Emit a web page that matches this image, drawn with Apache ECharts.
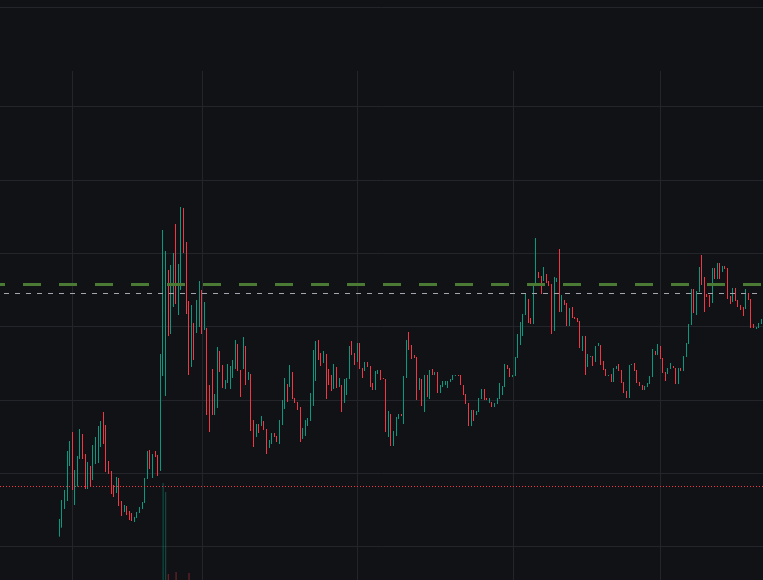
<!DOCTYPE html>
<html><head><meta charset="utf-8">
<script src="https://cdn.jsdelivr.net/npm/echarts@6/dist/echarts.min.js"></script>
<style>html,body{margin:0;padding:0;background:#111216;}#c{width:763px;height:580px;}</style>
</head><body><div id="c"></div>
<script>
// Candle data (272 bars)
const opens = [
12.50,13.85,16.65,17.85,23.10,28.20,17.25,20.00,24.15,27.90,
24.90,19.65,23.10,21.00,23.40,23.55,25.95,31.20,29.25,23.85,
22.35,20.25,19.05,21.30,17.85,16.20,17.10,16.35,16.05,14.70,
15.30,16.05,16.65,17.55,21.15,25.50,21.30,25.35,24.75,22.35,
36.60,33.60,52.50,42.90,46.95,59.40,45.75,49.50,61.80,56.70,
47.85,37.95,44.55,43.05,43.95,49.50,43.50,43.80,35.25,37.65,
30.75,31.80,40.35,38.25,34.65,35.55,34.65,36.30,37.65,41.40,
37.50,37.65,41.10,36.00,36.90,30.00,27.45,29.40,29.10,29.85,
28.65,25.80,26.40,28.05,27.60,26.40,29.25,31.65,35.40,34.95,
37.20,33.30,32.70,31.95,27.15,27.60,29.10,29.85,32.10,35.85,
42.00,40.05,38.55,39.90,37.65,36.75,34.65,37.95,34.95,35.25,
32.55,33.75,36.15,41.85,40.05,38.70,41.55,37.80,37.35,38.70,
38.10,35.55,34.50,36.90,37.50,36.30,36.15,27.45,30.90,26.10,
27.60,30.15,30.90,29.40,36.30,43.20,41.25,39.75,39.45,34.50,
36.15,31.20,36.75,33.15,37.65,36.75,37.20,34.05,34.95,35.25,
34.80,35.70,36.00,36.60,36.75,36.75,35.25,33.90,32.55,29.10,
31.50,30.75,31.20,33.15,34.65,33.30,32.55,32.70,31.95,32.40,
33.15,33.75,34.95,38.25,37.80,36.45,36.60,39.30,41.25,42.60,
45.75,48.15,45.30,44.40,50.25,52.20,51.60,50.85,51.90,50.85,
50.40,43.35,50.70,55.65,46.20,48.00,47.55,44.10,46.95,45.45,
45.30,44.85,40.35,42.60,37.95,39.45,39.60,38.70,41.10,41.25,
38.85,37.65,36.60,36.90,35.70,37.65,38.40,37.50,35.70,34.35,
33.30,38.25,38.55,37.50,35.70,35.25,34.50,34.95,35.40,36.45,
40.35,39.75,41.10,39.30,37.20,36.90,37.65,38.10,37.80,35.40,
37.80,37.35,39.45,41.40,44.25,49.65,45.75,49.20,54.75,51.45,
48.90,48.75,47.55,52.80,51.15,53.55,52.20,53.10,52.80,48.60,
47.70,49.80,48.00,47.25,46.95,46.65,49.05,48.15,44.40,43.65,
43.80,44.40
];
const closes = [
15.15,18.00,19.50,25.35,26.85,19.50,22.50,24.60,28.65,24.15,
19.65,23.70,19.95,26.25,27.45,29.10,29.85,26.40,22.20,21.90,
18.90,18.45,21.45,17.10,15.60,17.25,15.75,15.00,14.85,15.45,
16.20,16.95,17.70,21.30,25.35,22.65,24.90,24.45,21.60,39.90,
58.50,55.35,42.60,53.25,55.05,47.40,53.40,61.95,55.05,45.90,
36.75,47.25,39.00,48.00,50.85,42.90,47.70,30.75,28.20,30.75,
33.90,40.95,37.20,34.80,36.00,38.40,38.10,39.00,42.00,37.35,
33.45,42.45,35.25,37.20,28.35,25.95,29.40,28.05,30.60,28.50,
24.90,27.00,28.05,27.45,26.70,30.00,33.00,36.30,32.70,38.25,
33.15,32.55,31.50,26.70,28.80,30.00,30.30,34.05,40.50,41.85,
39.00,38.10,40.35,33.15,35.25,34.35,38.40,34.80,36.30,31.20,
36.15,36.30,41.10,39.75,38.25,41.55,37.65,36.30,38.70,37.95,
34.95,34.50,37.35,37.50,36.00,36.15,28.20,31.35,26.10,28.35,
30.45,30.90,30.60,36.60,42.00,40.50,39.15,39.30,33.00,36.30,
32.10,36.75,33.45,37.50,36.75,37.20,34.05,35.25,35.85,35.85,
35.85,36.15,36.75,36.75,36.60,35.25,33.75,32.40,29.10,31.50,
29.85,31.35,33.30,34.65,33.00,33.00,33.30,31.95,32.55,33.30,
35.55,35.10,38.40,37.65,36.45,36.75,39.45,42.90,44.70,45.90,
49.05,44.55,44.40,50.25,57.30,51.30,48.90,52.95,50.55,50.10,
42.90,51.45,51.30,46.20,48.75,47.25,44.10,46.80,45.30,45.15,
44.70,40.80,42.60,36.75,39.90,39.60,38.10,41.10,41.55,38.25,
37.50,36.60,36.75,35.70,37.80,38.10,37.35,35.55,34.05,33.30,
38.25,38.40,37.35,35.55,35.10,34.50,35.10,35.55,36.60,40.65,
39.75,41.40,39.15,37.05,35.85,37.80,38.55,37.80,35.40,37.80,
37.35,39.60,41.55,44.40,49.65,46.05,49.35,52.95,50.25,46.20,
48.45,46.95,52.80,51.15,53.55,51.15,53.10,52.65,48.15,47.40,
49.80,47.85,46.95,46.50,45.60,49.65,48.00,43.80,43.80,43.95,
44.55,45.15
];
const lows = [
12.50,13.85,16.65,17.85,23.10,19.50,17.25,20.00,24.15,24.15,
19.65,19.65,19.95,21.00,23.40,23.55,25.95,26.40,22.20,21.90,
18.90,18.45,19.05,17.10,15.60,16.20,15.75,15.00,14.85,14.70,
15.30,16.05,16.65,17.55,21.15,22.65,21.30,24.45,21.60,22.35,
36.60,33.60,42.60,42.90,46.95,47.40,45.75,49.50,55.05,45.90,
36.75,37.95,39.00,43.05,43.95,42.90,43.50,30.75,28.20,30.75,
30.75,31.80,37.20,34.80,34.65,35.55,34.65,36.30,37.65,37.35,
33.45,37.65,35.25,36.00,28.35,25.95,27.45,28.05,29.10,28.50,
24.90,25.80,26.40,27.45,26.70,26.40,29.25,31.65,32.70,34.95,
33.15,32.55,31.50,26.70,27.15,27.60,29.10,29.85,32.10,35.85,
39.00,38.10,38.55,33.15,35.25,34.35,34.65,34.80,34.95,31.20,
32.55,33.75,36.15,39.75,38.25,38.70,37.65,36.30,37.35,37.95,
34.95,34.50,34.50,36.90,36.00,36.15,28.20,27.45,26.10,26.10,
27.60,30.15,30.60,29.40,36.30,40.50,39.15,39.30,33.00,34.50,
32.10,31.20,33.45,33.15,36.75,36.75,34.05,34.05,34.95,35.25,
34.80,35.70,36.00,36.60,36.60,35.25,33.75,32.40,29.10,29.10,
29.85,30.75,31.20,33.15,33.00,33.00,32.55,31.95,31.95,32.40,
33.15,33.75,34.95,37.65,36.45,36.45,36.60,39.30,41.25,42.60,
45.75,44.55,44.40,44.40,50.25,51.30,48.90,50.85,50.55,50.10,
42.90,43.35,50.70,46.20,46.20,47.25,44.10,44.10,45.30,45.15,
44.70,40.80,40.35,36.75,37.95,39.45,38.10,38.70,41.10,38.25,
37.50,36.60,36.60,35.70,35.70,37.65,37.35,35.55,34.05,33.30,
33.30,38.25,37.35,35.55,35.10,34.50,34.50,34.95,35.40,36.45,
39.75,39.75,39.15,37.05,35.85,36.90,37.65,37.80,35.40,35.40,
37.35,37.35,39.45,41.40,44.25,46.05,45.75,49.20,50.25,46.20,
48.45,46.95,47.55,51.15,51.15,51.15,52.20,52.65,48.15,47.40,
47.70,47.85,46.95,46.50,45.60,46.65,48.00,43.80,43.80,43.65,
43.80,44.40
];
const highs = [
15.15,18.00,19.50,25.35,26.85,28.20,22.50,24.60,28.65,27.90,
24.90,23.70,23.10,26.25,27.45,29.10,29.85,31.20,29.25,23.85,
22.35,20.25,21.45,21.30,17.85,17.25,17.10,16.35,16.05,15.45,
16.20,16.95,17.70,21.30,25.35,25.50,24.90,25.35,24.75,39.90,
58.50,55.35,52.50,53.25,55.05,59.40,53.40,61.95,61.80,56.70,
47.85,47.25,44.55,48.00,50.85,49.50,47.70,43.80,35.25,37.65,
33.90,40.95,40.35,38.25,36.00,38.40,38.10,39.00,42.00,41.40,
37.50,42.45,41.10,37.20,36.90,30.00,29.40,29.40,30.60,29.85,
28.65,27.00,28.05,28.05,27.60,30.00,33.00,36.30,35.40,38.25,
37.20,33.30,32.70,31.95,28.80,30.00,30.30,34.05,40.50,41.85,
42.00,40.05,40.35,39.90,37.65,36.75,38.40,37.95,36.30,35.25,
36.15,36.30,41.10,41.85,40.05,41.55,41.55,37.80,38.70,38.70,
38.10,35.55,37.35,37.50,37.50,36.30,36.15,31.35,30.90,28.35,
30.45,30.90,30.90,36.60,42.00,43.20,41.25,39.75,39.45,36.30,
36.15,36.75,36.75,37.50,37.65,37.20,37.20,35.25,35.85,35.85,
35.85,36.15,36.75,36.75,36.75,36.75,35.25,33.90,32.55,31.50,
31.50,31.35,33.30,34.65,34.65,33.30,33.30,32.70,32.55,33.30,
35.55,35.10,38.40,38.25,37.80,36.75,39.45,42.90,44.70,45.90,
49.05,48.15,45.30,50.25,57.30,52.20,51.60,52.95,51.90,50.85,
50.40,51.45,51.30,55.65,48.75,48.00,47.55,46.80,46.95,45.45,
45.30,44.85,42.60,42.60,39.90,39.60,39.60,41.10,41.55,41.25,
38.85,37.65,36.75,36.90,37.80,38.10,38.40,37.50,35.70,34.35,
38.25,38.40,38.55,37.50,35.70,35.25,35.10,35.55,36.60,40.65,
40.35,41.40,41.10,39.30,37.20,37.80,38.55,38.10,37.80,37.80,
37.80,39.60,41.55,44.40,49.65,49.65,49.35,52.95,54.75,51.45,
48.90,48.75,52.80,52.80,53.55,53.55,53.10,53.10,52.80,48.60,
49.80,49.80,48.00,47.25,46.95,49.65,49.05,48.15,44.40,43.95,
44.55,45.15
];
// Volume (only the launch bars rise visibly above the bottom edge)
const volumes = [
0,0,0,0,0,0,0,0,0,0,
0,0,0,0,0,0,0,0,0,0,
0,0,0,0,0,0,0,0,0,0,
0,0,0,0,0,0,0,0,0,0,
970,880,60,0,0,80,0,0,0,0,
70,0,0,0,0,0,0,0,0,0,
0,0,0,0,0,0,0,0,0,0,
0,0,0,0,0,0,0,0,0,0,
0,0,0,0,0,0,0,0,0,0,
0,0,0,0,0,0,0,0,0,0,
0,0,0,0,0,0,0,0,0,0,
0,0,0,0,0,0,0,0,0,0,
0,0,0,0,0,0,0,0,0,0,
0,0,0,0,0,0,0,0,0,0,
0,0,0,0,0,0,0,0,0,0,
0,0,0,0,0,0,0,0,0,0,
0,0,0,0,0,0,0,0,0,0,
0,0,0,0,0,0,0,0,0,0,
0,0,0,0,0,0,0,0,0,0,
0,0,0,0,0,0,0,0,0,0,
0,0,0,0,0,0,0,0,0,0,
0,0,0,0,0,0,0,0,0,0,
0,0,0,0,0,0,0,0,0,0,
0,0,0,0,0,0,0,0,0,0,
0,0,0,0,0,0,0,0,0,0,
0,0,0,0,0,0,0,0,0,0,
0,0,0,0,0,0,0,0,0,0,
0,0
];
// Price levels
const levelGreen = 50.325;
const levelGray = 48.975;
const levelRed = 20.025;
// Price scale shown (bottom edge, top of pane) and grid step
const priceMin = 6, priceMax = 82.35, priceStep = 11;
// Vertical grid line positions (bar index)
const sessionBreaks = [5, 55, 115, 175, 232];

const UP = '#089981', DOWN = '#f23645';
const GRIDC = '#23252b';
const BG = '#111216';

const categories = highs.map((_, i) => String(i));
const ohlc = opens.map((o, i) => [o, closes[i], lows[i], highs[i]]);

// Horizontal grid: measured downward from the top grid line (77) so ticks start at a multiple of the step
const topLine = Math.floor(priceMax / priceStep) * priceStep;   // 77
const gridTopPx = 71 + (priceMax - topLine) / (priceMax - priceMin) * 509;

const chart = echarts.init(document.getElementById('c'), null, {renderer: 'canvas'});
chart.setOption({
  backgroundColor: BG,
  animation: false,
  graphic: [{type: 'line', silent: true, shape: {x1: 0, y1: 7.5, x2: 763, y2: 7.5}, style: {stroke: GRIDC, lineWidth: 1}}],
  grid: [
    {left: 59.5, right: 1.5, top: 71, bottom: 0},
    {left: 0, right: 0, top: 71, bottom: 0},
    {left: 59.5, right: 1.5, top: 480, bottom: 0},
    {left: 0, right: 0, top: gridTopPx, bottom: 0}
  ],
  xAxis: [
    {type: 'category', gridIndex: 0, data: categories, boundaryGap: false,
     axisLine: {show: false}, axisTick: {show: false}, axisLabel: {show: false},
     splitLine: {show: true, interval: (i) => sessionBreaks.includes(i), lineStyle: {color: GRIDC, width: 1}}},
    {type: 'value', gridIndex: 1, min: 0, max: 1, show: false},
    {type: 'category', gridIndex: 2, data: categories, boundaryGap: false, show: false},
    {type: 'value', gridIndex: 3, min: 0, max: 1, show: false}
  ],
  yAxis: [
    {type: 'value', gridIndex: 0, min: priceMin, max: priceMax, show: false},
    {type: 'value', gridIndex: 1, min: priceMin, max: priceMax, show: false},
    {type: 'value', gridIndex: 2, min: 0, max: 1000, show: false},
    {type: 'value', gridIndex: 3, inverse: true, min: 0, max: topLine - priceMin, interval: priceStep,
     axisLine: {show: false}, axisTick: {show: false}, axisLabel: {show: false},
     splitLine: {show: true, showMaxLine: false, lineStyle: {color: GRIDC, width: 1}}}
  ],
  series: [
    {type: 'bar', xAxisIndex: 2, yAxisIndex: 2, barWidth: 1, z: 1, silent: true,
     data: volumes.map((v, i) => ({value: v, itemStyle: {color: closes[i] >= opens[i] ? 'rgba(8,153,129,0.5)' : 'rgba(242,54,69,0.5)'}}))},
    {type: 'candlestick', xAxisIndex: 0, yAxisIndex: 0, data: ohlc, barWidth: 1, z: 3,
     itemStyle: {color: UP, color0: DOWN, borderColor: UP, borderColor0: DOWN, borderWidth: 1}},
    {type: 'line', xAxisIndex: 1, yAxisIndex: 1, data: [], silent: true, z: 4,
     markLine: {silent: true, symbol: ['none', 'none'], label: {show: false}, animation: false,
       data: [
         {yAxis: levelGreen, lineStyle: {color: '#4b7a35', width: 3, type: [18, 18], dashOffset: 13}},
         {yAxis: levelGray, lineStyle: {color: '#a3a6af', width: 1, type: [5, 6], dashOffset: 7}},
         {yAxis: levelRed, lineStyle: {color: DOWN, width: 1, type: [1, 2]}}
       ]}}
  ]
});
</script>
</body></html>
